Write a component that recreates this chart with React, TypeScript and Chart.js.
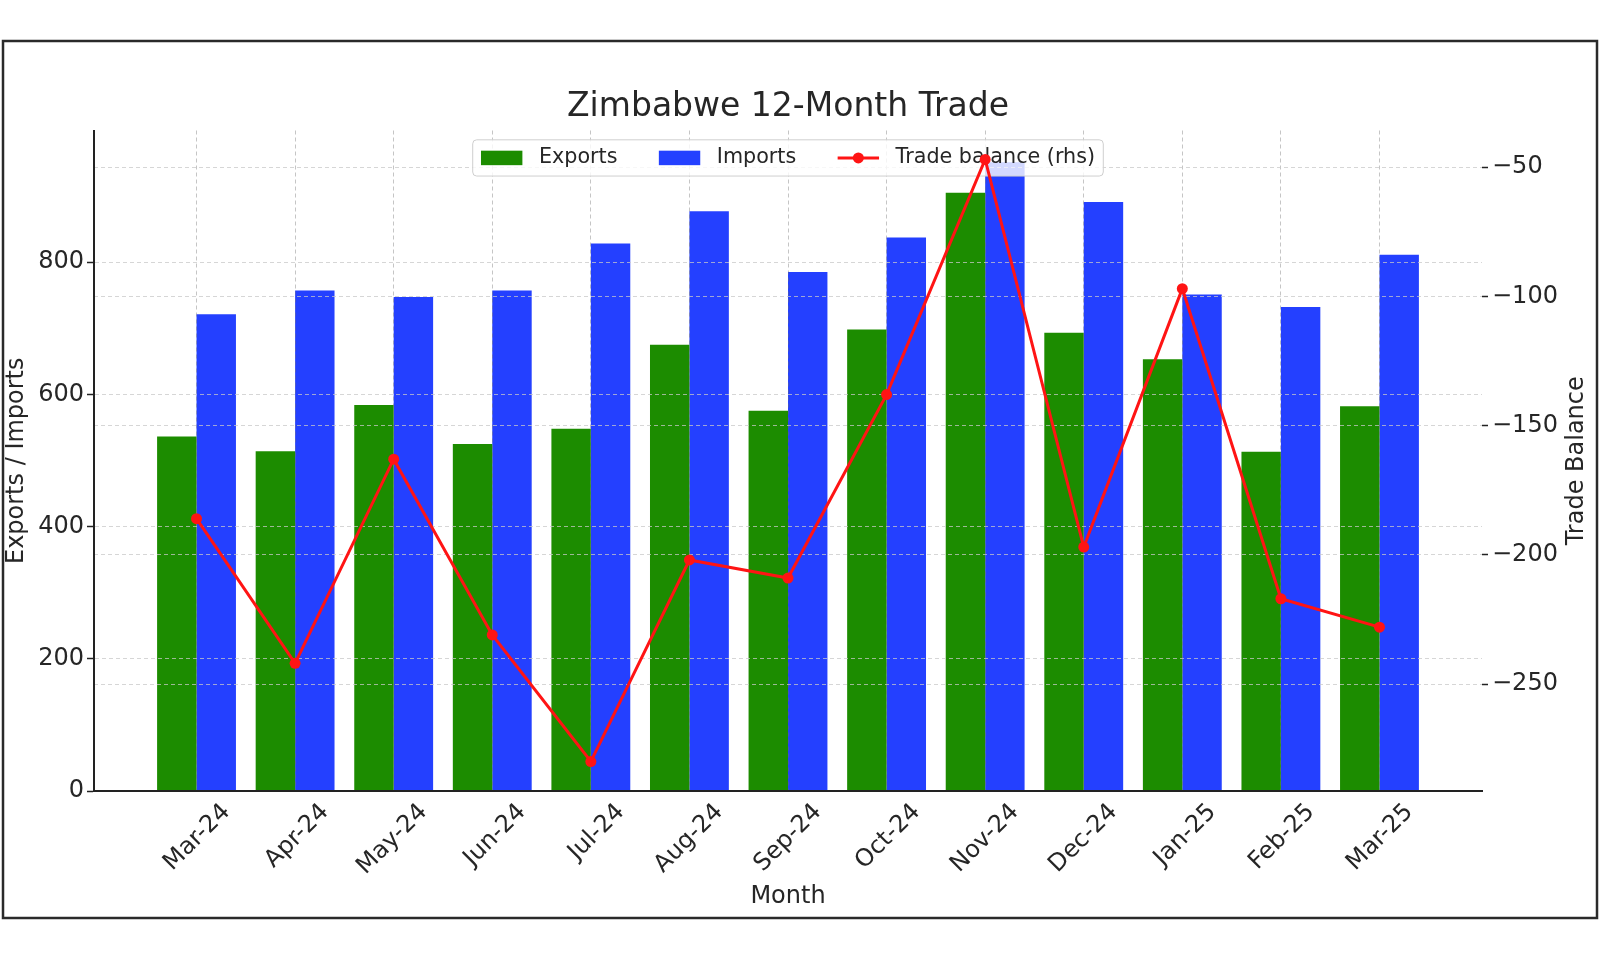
import React, { useEffect, useRef } from 'react';
import { Chart, registerables } from 'chart.js';

Chart.register(...registerables);

// ---- data ----
const months = ['Mar-24', 'Apr-24', 'May-24', 'Jun-24', 'Jul-24', 'Aug-24', 'Sep-24', 'Oct-24', 'Nov-24', 'Dec-24', 'Jan-25', 'Feb-25', 'Mar-25'];
const exportsData = [536, 514, 584, 525, 548, 675, 575, 698, 905, 693, 653, 513, 582];
const importsData = [721, 757, 747, 757, 828, 877, 785, 837, 951, 891, 751, 732, 811];
const tradeBalance = [-186, -242, -163, -231, -280, -202, -209, -138, -47, -197, -97, -217, -228];
const leftTicks = [0, 200, 400, 600, 800];
const rightTicks = [-250, -200, -150, -100, -50];

const TITLE = 'Zimbabwe 12-Month Trade';
const X_TITLE = 'Month';
const LEFT_TITLE = 'Exports / Imports';
const RIGHT_TITLE = 'Trade Balance';

// ---- style ----
const FONT = '"DejaVu Sans", "Liberation Sans", sans-serif';
const TEXT = '#262626';
const GREEN = '#1c8c00';
const BLUE = '#2440ff';
const RED = '#ff1414';
const SPINE = '#222222';

const framePlugin = {
  id: 'frame',
  beforeDraw(chart: any) {
    const { ctx, width, height } = chart;
    ctx.save();
    ctx.fillStyle = '#ffffff';
    ctx.fillRect(0, 0, width, height);
    ctx.strokeStyle = '#2a2a2a';
    ctx.lineWidth = 2.5;
    ctx.strokeRect(3, 41, 1594, 877);
    ctx.restore();
  },
};

const overlayPlugin = {
  id: 'overlay',
  beforeDatasetDraw(chart: any, args: any) {
    if (args.meta.type === 'line') return false;
    return true;
  },
  afterDraw(chart: any) {
    const ctx = chart.ctx;
    const area = chart.chartArea;

    // right axis title (reads bottom-to-top)
    ctx.save();
    ctx.font = `24px ${FONT}`;
    ctx.fillStyle = TEXT;
    ctx.translate(1576.5, (area.top + area.bottom) / 2);
    ctx.rotate(-Math.PI / 2);
    ctx.textAlign = 'center';
    ctx.textBaseline = 'middle';
    ctx.fillText(RIGHT_TITLE, 0, 0);
    ctx.restore();

    // legend
    const fs = 20.7;
    ctx.save();
    ctx.font = `${fs}px ${FONT}`;
    const items = chart.data.datasets.map((ds: any) => ({
      label: ds.label,
      line: ds.type === 'line',
      color: ds.type === 'line' ? ds.borderColor : ds.backgroundColor,
    }));
    const hl = 2 * fs, hp = 0.8 * fs, cs = 2 * fs, bp = 0.4 * fs;
    const widths = items.map((it: any) => ctx.measureText(it.label).width);
    let total = 2 * bp + cs * (items.length - 1);
    widths.forEach((w: number) => { total += hl + hp + w; });
    const boxH = 1.75 * fs;
    const cx = (area.left + area.right) / 2;
    const x0 = cx - total / 2;
    const y0 = area.top + 0.45 * fs;
    ctx.beginPath();
    ctx.roundRect(x0, y0, total, boxH, 4);
    ctx.fillStyle = 'rgba(255,255,255,0.8)';
    ctx.fill();
    ctx.strokeStyle = '#cfcfcf';
    ctx.lineWidth = 1;
    ctx.stroke();
    const cy = y0 + boxH / 2;
    let x = x0 + bp;
    items.forEach((it: any, i: number) => {
      if (it.line) {
        ctx.strokeStyle = it.color;
        ctx.lineWidth = 3;
        ctx.beginPath();
        ctx.moveTo(x, cy);
        ctx.lineTo(x + hl, cy);
        ctx.stroke();
        ctx.fillStyle = it.color;
        ctx.beginPath();
        ctx.arc(x + hl / 2, cy, 5.5, 0, Math.PI * 2);
        ctx.fill();
      } else {
        ctx.fillStyle = it.color;
        ctx.fillRect(x, cy - 0.35 * fs, hl, 0.7 * fs);
      }
      ctx.fillStyle = TEXT;
      ctx.textAlign = 'left';
      ctx.textBaseline = 'middle';
      ctx.fillText(it.label, x + hl + hp, cy);
      x += hl + hp + widths[i] + cs;
    });
    ctx.restore();

    // trade balance line on top of everything
    const idx = chart.data.datasets.findIndex((d: any) => d.type === 'line');
    const meta = chart.getDatasetMeta(idx);
    meta.controller.draw();
  },
};

export default function App() {
  const ref = useRef<HTMLCanvasElement>(null);

  useEffect(() => {
    const tickFont = { family: FONT, size: 24 };
    const chart = new Chart(ref.current as HTMLCanvasElement, {
      type: 'bar',
      data: {
        datasets: [
          {
            type: 'bar',
            label: 'Exports',
            data: exportsData.map((v, i) => ({ x: i, y: v })),
            backgroundColor: GREEN,
            yAxisID: 'y',
            xAxisID: 'x',
            categoryPercentage: 0.8,
            barPercentage: 1.0,
            order: 2,
          },
          {
            type: 'bar',
            label: 'Imports',
            data: importsData.map((v, i) => ({ x: i, y: v })),
            backgroundColor: BLUE,
            yAxisID: 'y',
            xAxisID: 'x',
            categoryPercentage: 0.8,
            barPercentage: 1.0,
            order: 2,
          },
          {
            type: 'line',
            label: 'Trade balance (rhs)',
            data: tradeBalance.map((v, i) => ({ x: i, y: v })),
            borderColor: RED,
            backgroundColor: RED,
            borderWidth: 3,
            pointRadius: 5.5,
            pointBackgroundColor: RED,
            pointBorderWidth: 0,
            tension: 0,
            yAxisID: 'y1',
            xAxisID: 'x',
            order: 1,
          },
        ] as any,
      },
      options: {
        responsive: false,
        animation: false,
        events: [],
        layout: { padding: { top: 87.2, left: 0, right: 0, bottom: 0 } },
        plugins: {
          legend: { display: false },
          tooltip: { enabled: false },
          title: {
            display: true,
            text: TITLE,
            fullSize: false,
            color: TEXT,
            font: { family: FONT, size: 33, weight: 'normal' },
            padding: { top: 0, bottom: 3.7 },
          },
        },
        scales: {
          x: {
            type: 'linear',
            min: -1.04,
            max: 13.04,
            bounds: 'data',
            offset: false,
            afterBuildTicks: (s: any) => { s.ticks = months.map((_, i) => ({ value: i })); },
            afterFit: (s: any) => { s.height = 169; },
            grid: {
              display: true,
              drawOnChartArea: true,
              drawTicks: false,
              offset: false,
              color: 'rgba(110,110,110,0.4)',
              lineWidth: 1,
              z: 1,
            },
            border: { display: true, color: SPINE, width: 2, dash: [4, 3], z: 2 },
            ticks: {
              autoSkip: false,
              minRotation: 45,
              maxRotation: 45,
              labelOffset: 30,
              padding: 7,
              color: TEXT,
              font: tickFont,
              callback: (v: any) => months[Math.round(Number(v))] ?? '',
            },
            title: {
              display: true,
              text: X_TITLE,
              color: TEXT,
              font: { family: FONT, size: 24 },
              padding: { top: 0, bottom: 48.6 },
            },
          },
          y: {
            type: 'linear',
            position: 'left',
            min: 0,
            max: 999,
            bounds: 'data',
            beginAtZero: false,
            afterBuildTicks: (s: any) => { s.ticks = leftTicks.map((v) => ({ value: v })); },
            afterFit: (s: any) => { s.width = 94; },
            grid: {
              color: 'rgba(200,200,200,0.75)',
              lineWidth: 1,
              drawTicks: true,
              tickLength: 7,
              tickColor: SPINE,
              tickWidth: 1.5,
              tickBorderDash: [],
              z: 1,
            },
            border: { display: true, color: SPINE, width: 2, dash: [4, 3], z: 2 },
            ticks: { padding: 3, color: TEXT, font: tickFont },
            title: {
              display: true,
              text: LEFT_TITLE,
              color: TEXT,
              font: { family: FONT, size: 24 },
              padding: { top: 2, bottom: 0 },
            },
          },
          y1: {
            type: 'linear',
            position: 'right',
            min: -291.4,
            max: -35.8,
            bounds: 'data',
            beginAtZero: false,
            afterBuildTicks: (s: any) => { s.ticks = rightTicks.map((v) => ({ value: v })); },
            afterFit: (s: any) => { s.width = 118; },
            grid: {
              drawOnChartArea: true,
              color: 'rgba(200,200,200,0.75)',
              lineWidth: 1,
              drawTicks: true,
              tickLength: 6,
              tickColor: SPINE,
              tickWidth: 1.5,
              tickBorderDash: [],
              z: 1,
            },
            border: { display: false, dash: [4, 3] },
            ticks: {
              padding: 4,
              color: TEXT,
              font: tickFont,
              callback: (v: any) => (Number(v) < 0 ? '\u2212' + Math.abs(Number(v)) : String(v)),
            },
            title: { display: false },
          },
        },
      } as any,
      plugins: [framePlugin, overlayPlugin],
    });
    return () => chart.destroy();
  }, []);

  return (
    <div style={{ position: 'fixed', left: 0, top: 0, width: 1600, height: 960, background: '#fff' }}>
      <canvas ref={ref} width={1600} height={960} style={{ display: 'block', width: 1600, height: 960 }} />
    </div>
  );
}
